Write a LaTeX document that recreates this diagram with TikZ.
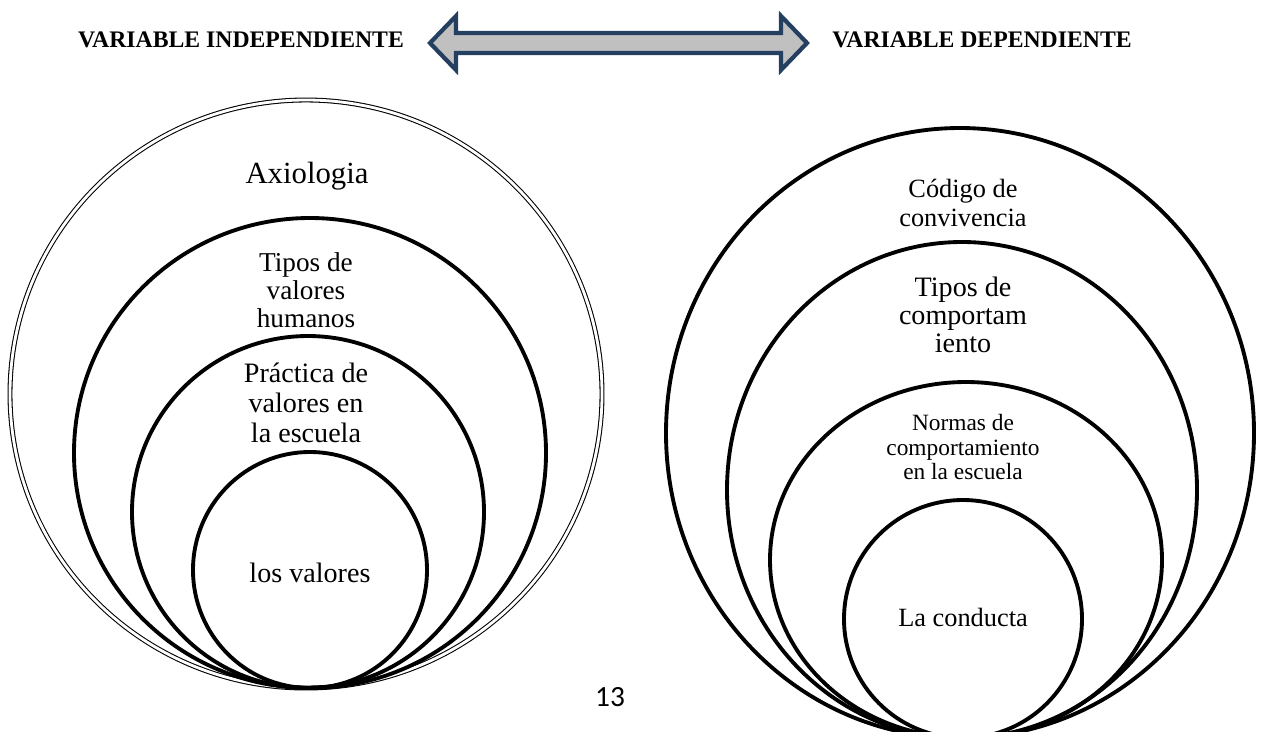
\documentclass[tikz,border=0pt]{standalone}
\usepackage{fontspec}
\setmainfont{Liberation Serif}
\newfontfamily\pagefont{Carlito}
\definecolor{arrowblue}{HTML}{243F60}
\definecolor{arrowgray}{HTML}{C0C0C0}
\tikzset{
    ring/.style={line width=2.2pt},
    outerring/.style={double, line width=0.6pt, double distance=1.6pt},
    ringtext/.style={align=center, inner sep=0pt},
    header/.style={font=\fontsize{13.5}{15}\selectfont\bfseries, inner sep=0pt},
}
\begin{document}
\begin{tikzpicture}[x=0.02cm, y=-0.02cm]
                \useasboundingbox (0,0) rectangle (1264,731);
                \clip (0,0) rectangle (1264,731);

                \node[header] (indep) at (241,40) {VARIABLE INDEPENDIENTE};
                \node[header] (dep) at (982,40) {VARIABLE DEPENDIENTE};
                \draw[line width=2.4pt, line join=miter, draw=arrowblue, fill=arrowgray]
                    (430,43) -- (456,16) -- (456,33) -- (781,33) -- (781,16) -- (807,43)
                    -- (781,70) -- (781,53) -- (456,53) -- (456,70) -- cycle;

                \draw[outerring] (306,394) ellipse [x radius=296, y radius=294];
                \draw[ring] (310,453) ellipse [x radius=236, y radius=235];
                \draw[ring] (308,512) ellipse [x radius=176, y radius=176];
                \draw[ring] (310,570) ellipse [x radius=117, y radius=118];

                \node[ringtext, font=\fontsize{17.5}{20}\selectfont] (axio) at (307,176) {Axiologia};
                \node[ringtext, font=\fontsize{15.5}{16}\selectfont] (tipval) at (306,290) {Tipos de\\valores\\humanos};
                \node[ringtext, font=\fontsize{16}{17}\selectfont] (prac) at (306,403) {Práctica de\\valores en\\la escuela};
                \node[ringtext, font=\fontsize{16}{17}\selectfont] (valores) at (310,573) {los valores};

                \draw[ring] (960,433) ellipse [x radius=294, y radius=305];
                \draw[ring] (962,490) ellipse [x radius=235, y radius=248];
                \draw[ring] (966,560) ellipse [x radius=196, y radius=178];
                \draw[ring] (963,619) ellipse [x radius=119, y radius=119];

                \node[ringtext, font=\fontsize{15}{16.5}\selectfont] (codigo) at (963,203) {Código de\\convivencia};
                \node[ringtext, font=\fontsize{16}{16}\selectfont] (tipcomp) at (963,315) {Tipos de\\comportam\\iento};
                \node[ringtext, font=\fontsize{13.3}{14}\selectfont] (normas) at (963,447) {Normas de\\comportamiento\\en la escuela};
                \node[ringtext, font=\fontsize{15}{17}\selectfont] (conducta) at (963,617) {La conducta};

                \node[font=\pagefont\fontsize{16.7}{18}\selectfont, inner sep=0pt] (page) at (610,697) {13};
            \end{tikzpicture}
\end{document}
